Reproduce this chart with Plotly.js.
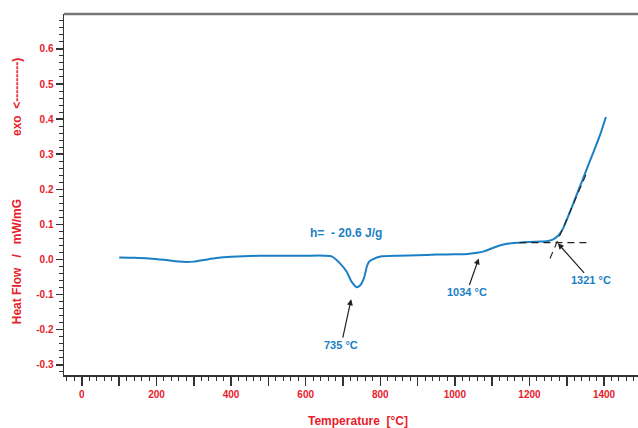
<!DOCTYPE html>
<html>
<head>
<meta charset="utf-8">
<script src="https://cdn.plot.ly/plotly-3.0.1.min.js"></script>
<style>html,body{margin:0;padding:0;overflow:hidden;background:#fff}#chart{width:638px;height:428px}</style>
</head>
<body>
<div id="chart"></div>
<script>
// Curve data (temperature in °C, heat flow in mW/mg)
const temperature = [100,140,180,220,260,280,300,330,360,400,450,500,550,600,650,670,692,710,723,737,745,756,764,770,781,804,850,900,950,1000,1034,1060,1080,1100,1120,1140,1170,1200,1230,1250,1265,1275,1283,1290,1300,1315,1330,1345,1360,1375,1390,1405];
const heatFlow    = [0.006,0.005,0.003,-0.001,-0.006,-0.007,-0.006,-0.001,0.004,0.008,0.010,0.011,0.011,0.011,0.011,0.009,-0.011,-0.035,-0.063,-0.079,-0.075,-0.054,-0.020,-0.006,0.001,0.009,0.011,0.012,0.014,0.015,0.016,0.019,0.024,0.032,0.040,0.045,0.048,0.050,0.051,0.053,0.058,0.066,0.076,0.088,0.113,0.153,0.194,0.234,0.275,0.315,0.357,0.406];

// Onset construction lines
const baselineT  = [1173, 1361];
const baselineHF = [0.048, 0.048];
const tangentT   = [1255, 1352];
const tangentHF  = [0.003, 0.243];

// Tick labels
const xTickVals = [0,100,200,300,400,500,600,700,800,900,1000,1100,1200,1300,1400];
const xTickText = ['0','','200','','400','','600','','800','','1000','','1200','','1400'];
const yTickVals = [-0.3,-0.2,-0.1,0,0.1,0.2,0.3,0.4,0.5,0.6];
const yTickText = ['-0.3','-0.2','-0.1','0.0','0.1','0.2','0.3','0.4','0.5','0.6'];

// Annotation labels
const peakLabels = [
  {text:'735 °C',  t:722,  hf:-0.113, ax:-10, ay:46},
  {text:'1034 °C', t:1064, hf:0.003,  ax:-12, ay:34},
  {text:'1321 °C', t:1276, hf:0.046,  ax:33,  ay:37}
];
const enthalpyLabel = {text:'h=\u00a0\u00a0- 20.6 J/g', t:709, hf:0.075};

const RED = '#e8202a', BLUE = '#1a7fc4', AX = '#333333';
const FONT = 'Liberation Sans, Arial, Helvetica, sans-serif';

const traces = [
  {x: temperature, y: heatFlow, mode:'lines', line:{color:BLUE, width:2, shape:'spline', smoothing:0.6}, hoverinfo:'skip'},
  {x: baselineT, y: baselineHF, mode:'lines', line:{color:'#222', width:1.1, dash:'7px,5px'}, hoverinfo:'skip'},
  {x: tangentT, y: tangentHF, mode:'lines', line:{color:'#222', width:1.1, dash:'7px,5px'}, hoverinfo:'skip'}
];

const annotations = peakLabels.map(p => ({
  x:p.t, y:p.hf, xref:'x', yref:'y', text:'<b>'+p.text+'</b>',
  showarrow:true, ax:p.ax, ay:p.ay, arrowhead:2, arrowsize:1, arrowwidth:1.2,
  arrowcolor:'#222', standoff:0, startstandoff:0,
  font:{family:FONT, size:11, color:BLUE}
}));
annotations.push({
  x:enthalpyLabel.t, y:enthalpyLabel.hf, xref:'x', yref:'y', showarrow:false,
  text:'<b>'+enthalpyLabel.text+'</b>', font:{family:FONT, size:12, color:BLUE}
});
annotations.push({
  x:-0.0819, y:0.315, xref:'paper', yref:'paper', showarrow:false, textangle:-90,
  xanchor:'center', yanchor:'middle',
  text:'<b>Heat Flow\u00a0\u00a0\u00a0/\u00a0\u00a0\u00a0mW/mG</b>', font:{family:FONT, size:12, color:RED}
});
annotations.push({
  x:-0.0819, y:0.770, xref:'paper', yref:'paper', showarrow:false, textangle:-90,
  xanchor:'center', yanchor:'middle',
  text:'<b>exo\u00a0\u00a0<----------)</b>', font:{family:FONT, size:12, color:RED}
});
annotations.push({
  x:0.512, y:-0.127, xref:'paper', yref:'paper', showarrow:false,
  xanchor:'center', yanchor:'middle',
  text:'<b>Temperature\u00a0\u00a0[°C]</b>', font:{family:FONT, size:12, color:RED}
});

const layout = {
  width:638, height:428,
  margin:{l:64, r:0, t:14, b:53},
  paper_bgcolor:'#fff', plot_bgcolor:'#fff',
  showlegend:false,
  xaxis:{
    range:[-48, 1491], showgrid:false, zeroline:false,
    showline:true, linecolor:AX, linewidth:1.5,
    tickmode:'array', tickvals:xTickVals, ticktext:xTickText,
    ticks:'outside', ticklen:9, tickwidth:1.5, tickcolor:AX,
    minor:{dtick:20, ticks:'outside', ticklen:4, tickwidth:1, tickcolor:AX, showgrid:false},
    tickfont:{family:FONT, size:10, color:RED, weight:'bold'}
  },
  yaxis:{
    range:[-0.329, 0.6994], showgrid:false, zeroline:false,
    showline:true, linecolor:AX, linewidth:1.5,
    tickmode:'array', tickvals:yTickVals, ticktext:yTickText,
    ticks:'outside', ticklen:7, tickwidth:1.5, tickcolor:AX,
    minor:{dtick:0.02, ticks:'outside', ticklen:4, tickwidth:1, tickcolor:AX, showgrid:false},
    tickfont:{family:FONT, size:10, color:RED, weight:'bold'}
  },
  shapes:[
    {type:'line', xref:'paper', yref:'paper', x0:0, x1:1, y0:1, y1:1, line:{color:'#777', width:2.5}}
  ],
  annotations: annotations
};

Plotly.newPlot('chart', traces, layout, {displayModeBar:false, staticPlot:true});
</script>
</body>
</html>
